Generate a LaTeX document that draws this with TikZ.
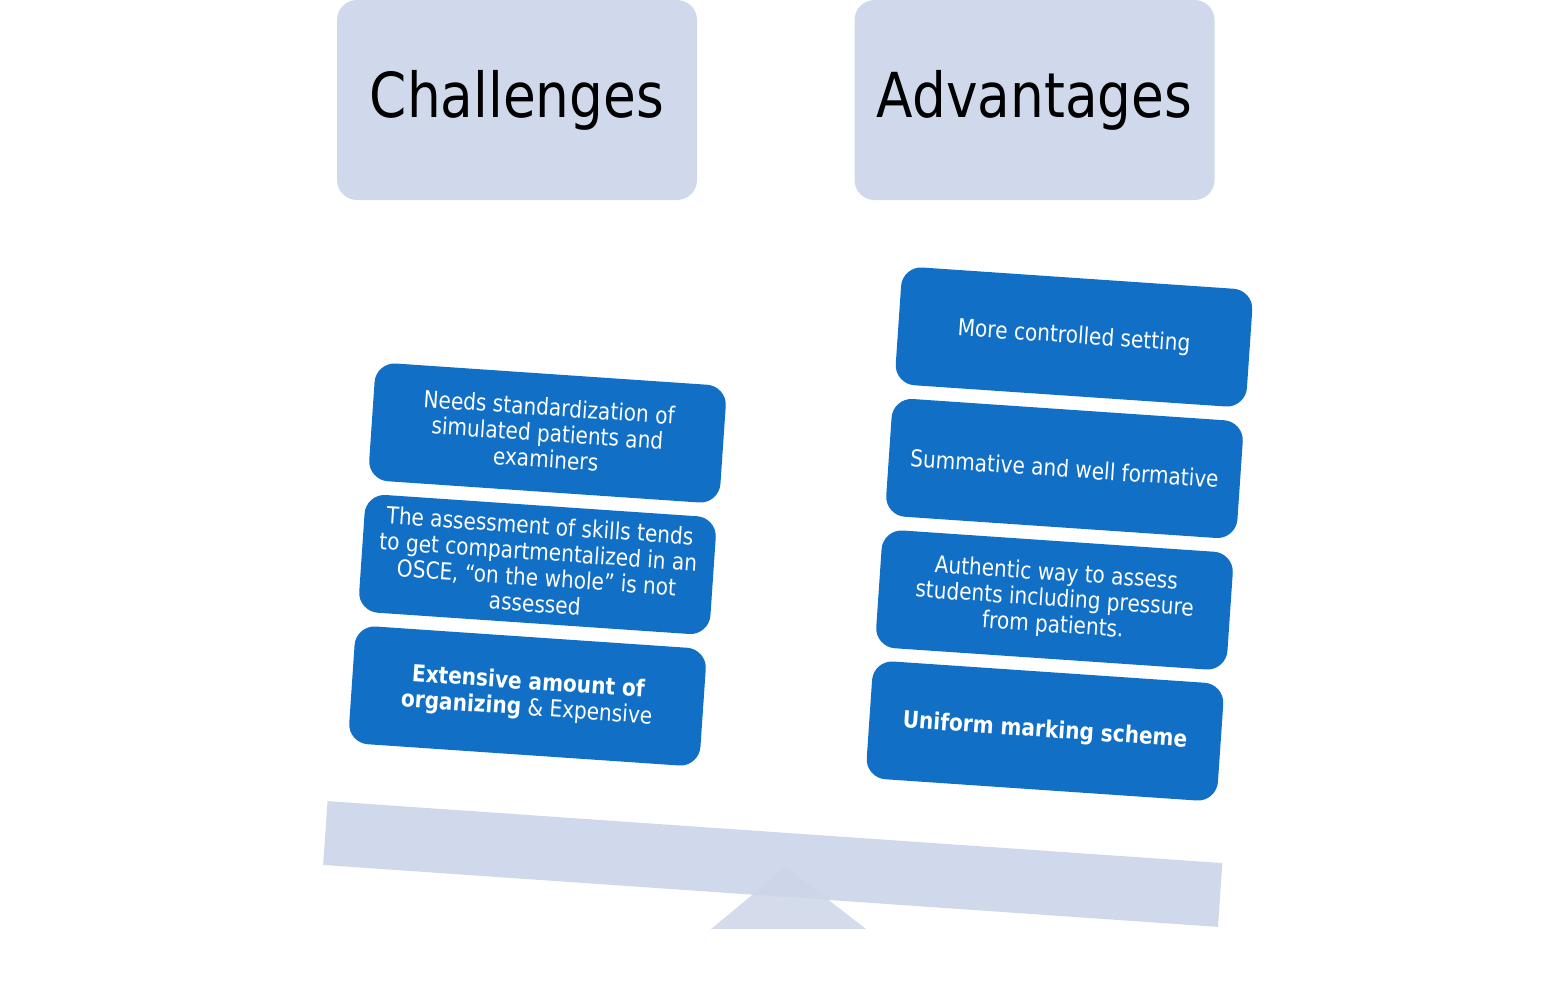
\documentclass[tikz,border=0pt]{standalone}
\usepackage{fontspec}
\setmainfont{DejaVu Sans}[FakeStretch=0.86]
\definecolor{pale}{RGB}{208,217,235}
\definecolor{paletri}{RGB}{205,214,233}
\definecolor{boxblue}{RGB}{17,111,198}
\begin{document}
\begin{tikzpicture}[x=0.5pt,y=-0.5pt,
  header/.style={fill=pale, rounded corners=10pt, minimum width=180pt, minimum height=100pt, inner sep=0pt, font=\fontsize{31}{36}\selectfont, text=black},
  item/.style={fill=boxblue, rounded corners=10pt, minimum width=176pt, minimum height=59pt, inner sep=2pt, align=center, text=white, rotate=-3.9, font=\fontsize{11.7}{13}\selectfont},
  beamstyle/.style={fill=pale, minimum width=448.5pt, minimum height=32pt, inner sep=0pt, rotate=-3.96}
]
\useasboundingbox (0,0) rectangle (1553,996);
% headers
\node[header] (chal) at (517,100) {Challenges};
\node[header] (adv) at (1034.5,100) {Advantages};
% beam and fulcrum
\node[beamstyle] (beam) at (772.75,864) {};
\path[fill=paletri, fill opacity=0.85] (711,929) -- (786,867) -- (866,929) -- cycle;
% left items
\node[item] (c1) at (547.5,433) {Needs standardization of\\simulated patients and\\examiners};
\node[item] (c2) at (537.5,564.5) {The assessment of skills tends\\to get compartmentalized in an\\OSCE, “on the whole” is not\\assessed};
\node[item] (c3) at (527.5,696) {\textbf{Extensive amount of}\\\textbf{organizing} \& Expensive};
% right items
\node[item] (a1) at (1074,337) {More controlled setting};
\node[item] (a2) at (1064.5,468.5) {Summative and well formative};
\node[item] (a3) at (1054.5,600) {Authentic way to assess\\students including pressure\\from patients.};
\node[item] (a4) at (1045,731) {\textbf{Uniform marking scheme}};
\end{tikzpicture}
\end{document}
